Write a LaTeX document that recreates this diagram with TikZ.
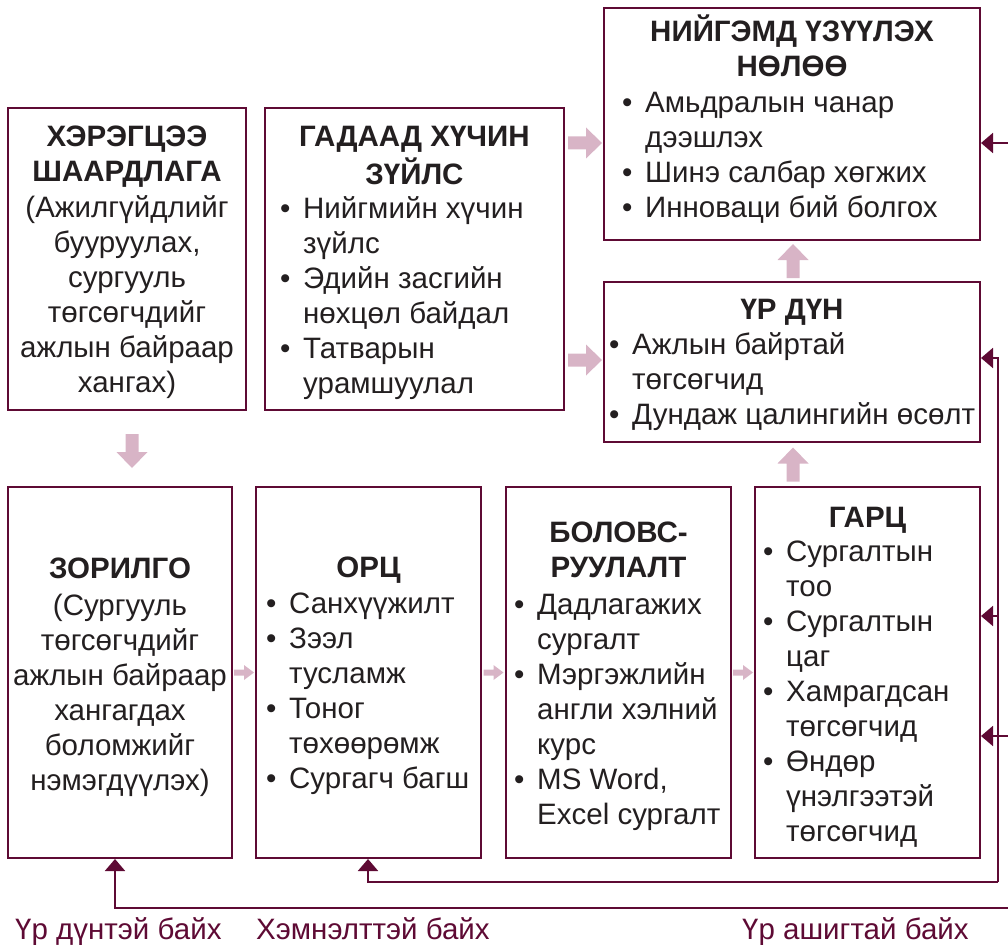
\documentclass[tikz,border=0pt]{standalone}
\usepackage{fontspec}
\setmainfont{Liberation Sans}
\usetikzlibrary{arrows.meta,calc}
\definecolor{bordc}{RGB}{94,10,52}
\definecolor{pinkc}{RGB}{216,180,198}
\definecolor{txtc}{RGB}{35,31,32}
\newcommand{\bodyfont}{\fontsize{29.5}{35}\selectfont}
\newcommand{\ctab}[1]{\begin{tabular}[t]{@{}c@{}}#1\end{tabular}}
\newcommand{\blist}[1]{\begin{tabular}[t]{@{}l@{}}#1\end{tabular}}
\newcommand{\bi}{\llap{\makebox[23pt][l]{•}}}
\begin{document}
\begin{tikzpicture}[x=1pt,y=-1pt,
  box/.style={draw=bordc, line width=2pt, inner sep=0pt},
  txt/.style={inner sep=0pt, font=\bodyfont, text=txtc},
  ttl/.style={txt, anchor=base, font=\bodyfont\bfseries},
  lst/.style={txt, anchor=base west},
  bigarr/.pic={\fill[pinkc] (-17,-6.5) -- (1,-6.5) -- (1,-15.5) -- (17,0) -- (1,15.5) -- (1,6.5) -- (-17,6.5) -- cycle;},
  smallarr/.pic={\fill[pinkc] (-10,-3) -- (0,-3) -- (0,-7.5) -- (10,0) -- (0,7.5) -- (0,3) -- (-10,3) -- cycle;},
  fb/.style={draw=bordc, line width=2pt, -{Triangle[length=12pt,width=20pt]}},
  lbl/.style={font=\bodyfont, text=bordc, inner sep=0pt}]
\useasboundingbox (0,0) rectangle (1008,944);

% boxes
\node[box, minimum width=238pt, minimum height=302pt] (A) at (127,259) {};
\node[box, minimum width=299pt, minimum height=302pt] (B) at (414.5,259) {};
\node[box, minimum width=376pt, minimum height=232pt] (C) at (792,124) {};
\node[box, minimum width=376pt, minimum height=160pt] (D) at (792,362) {};
\node[box, minimum width=224pt, minimum height=371pt] (E) at (120,672.5) {};
\node[box, minimum width=225pt, minimum height=371pt] (F) at (368.5,672.5) {};
\node[box, minimum width=225pt, minimum height=371pt] (G) at (618.5,672.5) {};
\node[box, minimum width=225pt, minimum height=371pt] (H) at (867.5,672.5) {};

% texts
\node[ttl] (At) at (A.center |- 0,147) {\ctab{ХЭРЭГЦЭЭ\\ШААРДЛАГА}};
\node[txt, anchor=base] (Ab) at (A.center |- 0,217) {\ctab{(Ажилгүйдлийг\\бууруулах,\\сургууль\\төгсөгчдийг\\ажлын байраар\\хангах)}};

\node[ttl] (Bt) at (B.center |- 0,147) {\ctab{ГАДААД ХҮЧИН\\ЗҮЙЛС}};
\node[lst] (Bl) at (303,218) {\blist{\bi Нийгмийн хүчин\\ зүйлс\\ \bi Эдийн засгийн\\ нөхцөл байдал\\ \bi Татварын\\ урамшуулал}};

\node[ttl] (Ct) at (C.center |- 0,42) {\ctab{НИЙГЭМД ҮЗҮҮЛЭХ\\НӨЛӨӨ}};
\node[lst] (Cl) at (645,113) {\blist{\bi Амьдралын чанар\\ дээшлэх\\ \bi Шинэ салбар хөгжих\\ \bi Инноваци бий болгох}};

\node[ttl] (Dt) at (D.center |- 0,319) {ҮР ДҮН};
\node[lst] (Dl) at (632,354) {\blist{\bi Ажлын байртай\\ төгсөгчид\\ \bi Дундаж цалингийн өсөлт}};

\node[ttl] (Et) at (E.center |- 0,578) {ЗОРИЛГО};
\node[txt, anchor=base] (Eb) at (E.center |- 0,615) {\ctab{(Сургууль\\төгсөгчдийг\\ажлын байраар\\хангагдах\\боломжийг\\нэмэгдүүлэх)}};

\node[ttl] (Ft) at (F.center |- 0,577) {ОРЦ};
\node[lst] (Fl) at (289,613) {\blist{\bi Санхүүжилт\\ \bi Зээл\\ тусламж\\ \bi Тоног\\ төхөөрөмж\\ \bi Сургагч багш}};

\node[ttl] (Gt) at (G.center |- 0,542) {\ctab{БОЛОВС-\\РУУЛАЛТ}};
\node[lst] (Gl) at (537,614) {\blist{\bi Дадлагажих\\ сургалт\\ \bi Мэргэжлийн\\ англи хэлний\\ курс\\ \bi MS Word,\\ Excel сургалт}};

\node[ttl] (Ht) at (H.center |- 0,527) {ГАРЦ};
\node[lst] (Hl) at (786,561) {\blist{\bi Сургалтын\\ тоо\\ \bi Сургалтын\\ цаг\\ \bi Хамрагдсан\\ төгсөгчид\\ \bi Өндөр\\ үнэлгээтэй\\ төгсөгчид}};

% block arrows
\pic[rotate=-90] (aAE) at (132,451) {bigarr};
\pic (aBC) at ($(B.east |- 0,143)+(20,0)$) {bigarr};
\pic (aBD) at ($(B.east |- 0,360)+(20,0)$) {bigarr};
\pic[rotate=90] (aDC) at ($(C.south)!0.5!(D.north)+(1,0)$) {bigarr};
\pic[rotate=90] (aHD) at (793,464.5) {bigarr};
\pic (aEF) at ($(E.east)!0.5!(F.west)$) {smallarr};
\pic (aFG) at ($(F.east)!0.5!(G.west)$) {smallarr};
\pic (aGH) at ($(G.east)!0.5!(H.west)$) {smallarr};

% feedback lines
\coordinate (fbC) at (1008,143);
\coordinate (fbH2) at (1008,736);
\coordinate (fbE) at (1008,908);
\coordinate (fbV) at (998,882);
\coordinate (fbH1) at (998,616);
\draw[fb] (fbC) -- (fbC -| C.east);
\draw[fb] (fbV) |- ($(D.east)+(0,-4)$);
\draw[fb] (fbH1) -- (fbH1 -| H.east);
\draw[fb] (fbV) -| ($(F.south)+(-0.5,0)$);
\draw[fb] (fbH2) -- (fbH2 -| H.east);
\draw[fb] (fbE) -| ($(E.south)+(-5,0)$);

% labels
\node[lbl, anchor=base west] (l1) at (15,939) {Үр дүнтэй байх};
\node[lbl, anchor=base west] (l2) at (256,939) {Хэмнэлттэй байх};
\node[lbl, anchor=base west] (l3) at (742,939) {Үр ашигтай байх};
\end{tikzpicture}
\end{document}
